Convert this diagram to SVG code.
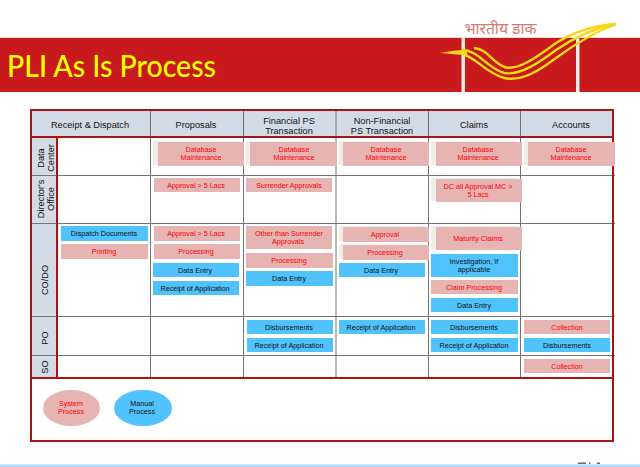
<svg xmlns="http://www.w3.org/2000/svg" width="640" height="467" viewBox="0 0 640 467">
<style>
text{font-family:"Liberation Sans",Arial,sans-serif;text-anchor:middle}
.h{font-size:9.2px;fill:#111}
.t{font-size:7.2px;fill:#f00}
.m{font-size:7.2px;fill:#111}
.sys{fill:#e6b5b3}
.man{fill:#50c2fe}
.bg{fill:#efeee6}
.g{stroke:#747474;stroke-width:1;fill:none}
.r{stroke:#a81414;stroke-width:2;fill:none}
.sw{fill:none;stroke:#f6d916;stroke-width:2.4}
</style>
<rect width="640" height="467" fill="#fff"/>
<rect x="0" y="464.500" width="640" height="2.500" fill="#b0d8fb"/>
<path d="M578 462.500h8v1.500h-8zM589 462.500h1.500v1.500h-1.500zM597 462.500h3v1.500h-3z" fill="#666"/>
<g id="banner">
<rect x="0" y="37" width="640" height="1" fill="#eedcdc"/>
<rect x="0" y="38" width="640" height="54" fill="#c8191c"/>
<rect x="461.500" y="38" width="3.500" height="54" fill="#f6ebe4"/>
<rect x="576" y="38" width="3.500" height="54" fill="#f6ebe4"/>
<path d="M440 53C450 51 458 50 466 50L468 56C458 54 450 54 440 53Z" fill="#f6d916"/>
<path class="sw" d="M462 54C476 57 484 72 504 78C522 82 540 70 556 58C575 44 595 32 616 24"/>
<path class="sw" d="M462 50C478 50 486 67 504 73C520 76 540 62 556 50C575 37 595 28 616 24"/>
<path class="sw" d="M474 48C488 49 492 63 506 67.500C520 70 538 56 556 43C575 31 595 26 614 24"/>
<text x="7" y="77" style="font-family:Lato,sans-serif;text-anchor:start;font-size:30px;font-weight:500;fill:#ffff00" textLength="209" lengthAdjust="spacingAndGlyphs">PLI As Is Process</text>
<text x="500.500" y="34" style="font-family:'Noto Sans',serif;font-size:15.500px;fill:#d87a70" textLength="72" lengthAdjust="spacingAndGlyphs">भारतीय डाक</text>
</g>
<g id="table">
<rect x="31" y="110" width="582" height="27" fill="#d3dbe7"/>
<rect x="31" y="137" width="26" height="241" fill="#d3dbe7"/>
<path class="g" d="M150.500 110V378M243.500 110V378M336 110V378M428.500 110V378M520.500 110V378M31 175.500H615M31 223.500H615M31 316.500H615M31 355.500H615"/>
<path class="r" d="M31 137H613M57 137V378M31 378H613"/>
<rect class="r" x="31" y="110" width="582" height="331"/>
</g>
<g id="headers">
<text class="h" x="90" y="128">Receipt &amp; Dispatch</text>
<text class="h" x="196" y="128">Proposals</text>
<text class="h" x="289" y="124">Financial PS</text><text class="h" x="289" y="134">Transaction</text>
<text class="h" x="382" y="124">Non-Financial</text><text class="h" x="382" y="134">PS Transaction</text>
<text class="h" x="474" y="128">Claims</text>
<text class="h" x="571" y="128">Accounts</text>
</g>
<g id="rows">
<text class="h" transform="translate(44 158) rotate(-90)">Data</text><text class="h" transform="translate(54 158) rotate(-90)">Center</text>
<text class="h" transform="translate(44 199) rotate(-90)">Director's</text><text class="h" transform="translate(54 199) rotate(-90)">Office</text>
<text class="h" transform="translate(48 280) rotate(-90)">CO/DO</text>
<text class="h" transform="translate(48 338) rotate(-90)">PO</text>
<text class="h" transform="translate(48 367) rotate(-90)">SO</text>
</g>
<g id="dc1"><rect class="bg" x="153" y="141" width="86" height="24"/><rect class="sys" x="158" y="142" width="86" height="24"/><text class="t" x="201" y="152">Database</text><text class="t" x="201" y="160">Maintenance</text></g>
<g id="dc2"><rect class="bg" x="246" y="141" width="86" height="24"/><rect class="sys" x="250" y="142" width="87" height="24"/><text class="t" x="294" y="152">Database</text><text class="t" x="294" y="160">Maintenance</text></g>
<g id="dc3"><rect class="bg" x="339" y="141" width="86" height="24"/><rect class="sys" x="343" y="142" width="86" height="24"/><text class="t" x="386" y="152">Database</text><text class="t" x="386" y="160">Maintenance</text></g>
<g id="dc4"><rect class="bg" x="431" y="141" width="86" height="24"/><rect class="sys" x="436" y="142" width="86" height="24"/><text class="t" x="478" y="152">Database</text><text class="t" x="478" y="160">Maintenance</text></g>
<g id="dc5"><rect class="bg" x="524" y="141" width="86" height="24"/><rect class="sys" x="528" y="142" width="87" height="24"/><text class="t" x="571" y="152">Database</text><text class="t" x="571" y="160">Maintenance</text></g>
<g id="do1"><rect class="sys" x="154" y="178" width="86" height="14"/><text class="t" x="196" y="188">Approval &gt; 5 Lacs</text></g>
<g id="do2"><rect class="sys" x="246" y="178" width="86" height="14"/><text class="t" x="289" y="188">Surrender Approvals</text></g>
<g id="do3"><rect class="bg" x="431" y="178" width="86" height="23"/><rect class="sys" x="436" y="179" width="86" height="23"/><text class="t" x="478" y="189">DC all Approval MC &gt;</text><text class="t" x="478" y="197">5 Lacs</text></g>
<g id="co1"><rect class="man" x="61" y="226" width="87" height="15"/><text class="m" x="104" y="236">Dispatch Documents</text></g>
<g id="co2"><rect class="sys" x="61" y="244" width="87" height="15"/><text class="t" x="104" y="254">Printing</text></g>
<g id="co3"><rect class="sys" x="154" y="226" width="86" height="15"/><text class="t" x="196" y="236">Approval &gt; 5 Lacs</text></g>
<g id="co4"><rect class="sys" x="154" y="244" width="86" height="15"/><text class="t" x="196" y="254">Processing</text></g>
<g id="co5"><rect class="man" x="153" y="263" width="86" height="14"/><text class="m" x="195" y="273">Data Entry</text></g>
<g id="co6"><rect class="man" x="153" y="281" width="86" height="14"/><text class="m" x="195" y="291">Receipt of Application</text></g>
<g id="co7"><rect class="sys" x="246" y="226" width="86" height="23"/><text class="t" x="289" y="236">Other than Surrender</text><text class="t" x="288" y="244">Approvals</text></g>
<g id="co8"><rect class="sys" x="246" y="253" width="87" height="15"/><text class="t" x="289" y="263">Processing</text></g>
<g id="co9"><rect class="man" x="246" y="271" width="87" height="15"/><text class="m" x="289" y="281">Data Entry</text></g>
<g id="co10"><rect class="bg" x="339" y="226" width="86" height="15"/><rect class="sys" x="343" y="227" width="86" height="15"/><text class="t" x="385" y="237">Approval</text></g>
<g id="co11"><rect class="bg" x="339" y="244" width="86" height="15"/><rect class="sys" x="343" y="245" width="86" height="15"/><text class="t" x="385" y="255">Processing</text></g>
<g id="co12"><rect class="man" x="339" y="263" width="86" height="14"/><text class="m" x="381" y="273">Data Entry</text></g>
<g id="co13"><rect class="bg" x="431" y="226" width="86" height="23"/><rect class="sys" x="436" y="227" width="86" height="23"/><text class="t" x="478" y="241">Maturity Claims</text></g>
<g id="co14"><rect class="man" x="431" y="254" width="87" height="23"/><text class="m" x="474" y="264">Investigation, If</text><text class="m" x="474" y="272">applicable</text></g>
<g id="co15"><rect class="sys" x="431" y="280" width="87" height="14"/><text class="t" x="474" y="290">Claim Processing</text></g>
<g id="co16"><rect class="man" x="431" y="298" width="87" height="14"/><text class="m" x="474" y="308">Data Entry</text></g>
<g id="po1"><rect class="man" x="247" y="320" width="86" height="14"/><text class="m" x="289" y="330">Disbursements</text></g>
<g id="po2"><rect class="man" x="247" y="338" width="86" height="14"/><text class="m" x="289" y="348">Receipt of Application</text></g>
<g id="po3"><rect class="man" x="339" y="320" width="86" height="14"/><text class="m" x="381" y="330">Receipt of Application</text></g>
<g id="po4"><rect class="man" x="431" y="320" width="87" height="14"/><text class="m" x="474" y="330">Disbursements</text></g>
<g id="po5"><rect class="man" x="431" y="338" width="87" height="14"/><text class="m" x="474" y="348">Receipt of Application</text></g>
<g id="po6"><rect class="sys" x="524" y="320" width="86" height="14"/><text class="t" x="567" y="330">Collection</text></g>
<g id="po7"><rect class="man" x="524" y="338" width="86" height="14"/><text class="m" x="567" y="348">Disbursements</text></g>
<g id="so1"><rect class="sys" x="524" y="359" width="86" height="14"/><text class="t" x="567" y="369">Collection</text></g>
<g id="legend-system"><ellipse class="sys" cx="71.500" cy="408" rx="28.500" ry="18"/><text class="t" x="71" y="406">System</text><text class="t" x="71" y="414">Process</text></g>
<g id="legend-manual"><ellipse class="man" cx="143" cy="408" rx="29" ry="18"/><text class="m" x="142" y="406">Manual</text><text class="m" x="142" y="414">Process</text></g>
<g id="connectors"></g>
</svg>
